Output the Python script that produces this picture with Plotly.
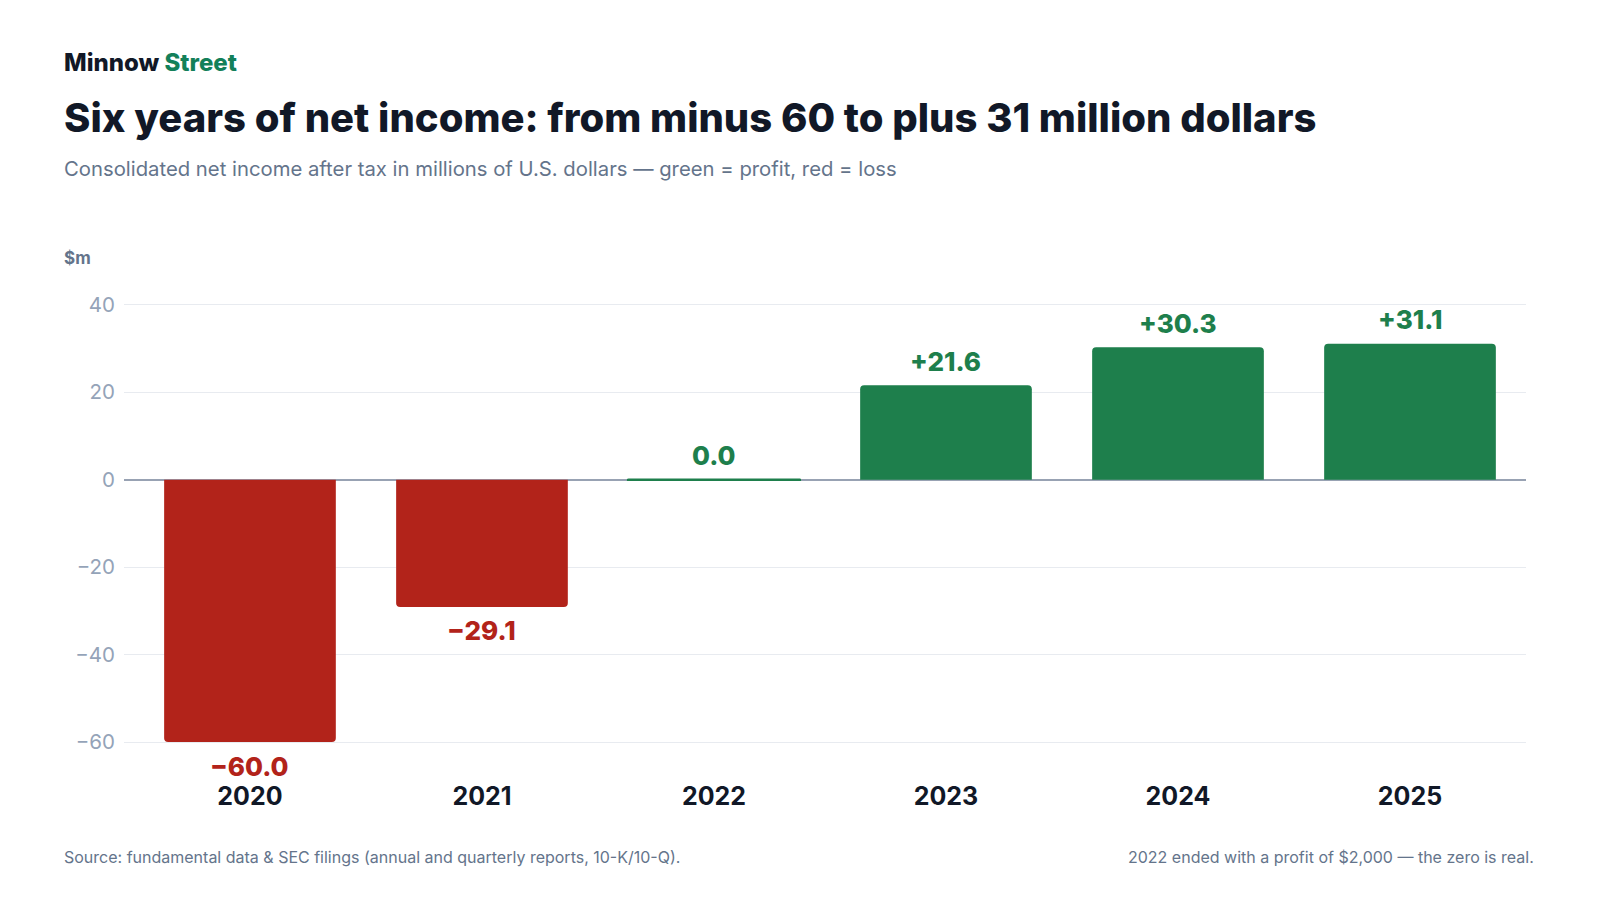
import plotly.graph_objects as go

# net income, $m
years = ["2020", "2021", "2022", "2023", "2024", "2025"]
net_income = [-60.0, -29.1, 0.002, 21.6, 30.3, 31.1]
y_ticks = [-60, -40, -20, 0, 20, 40]
y_tick_labels = ["\u221260", "\u221240", "\u221220", "0", "20", "40"]

RED = "#b2231a"
GREEN = "#1e7f4c"
DARK = "#111827"
GREY = "#64748b"
FONT = "Inter, Roboto, sans-serif"

W, H = 1600, 900
OFF = 8                               # page body margin
L, R, T, B = 124, 1526, 282, 777      # plot area in px (page coords)
TX = 62                               # left edge of header / footer text


def px_x(x):
    return (x - L) / (R - L)


def px_y(y):
    return (B - y) / (B - T)


def fmt(v):
    if round(v, 1) == 0:
        return "0.0"
    s = "%.1f" % abs(v)
    return ("+" if v > 0 else "\u2212") + s


colors = [RED if v < 0 else GREEN for v in net_income]
line_w = [2.5 if round(v, 1) == 0 else 0 for v in net_income]

fig = go.Figure()
fig.add_trace(go.Bar(
    x=years, y=net_income,
    marker=dict(color=colors, line=dict(color=colors, width=line_w), cornerradius=4),
    hoverinfo="skip",
))

annotations = []
for i, (v, c) in enumerate(zip(net_income, colors)):
    annotations.append(dict(
        x=i, y=v, xref="x", yref="y", text=fmt(v),
        showarrow=False, yshift=-24 if v < 0 else 24, yanchor="middle",
        font=dict(family=FONT, size=26, color=c, weight=800),
    ))

# header / footer
header = [
    dict(x=px_x(TX), y=px_y(62), text="Minnow <span style='color:#13805a'>Street</span>",
         font=dict(family=FONT, size=24, color=DARK, weight=800)),
    dict(x=px_x(TX), y=px_y(117), text="Six years of net income: from minus 60 to plus 31 million dollars",
         font=dict(family=FONT, size=40, color=DARK, weight=800)),
    dict(x=px_x(TX), y=px_y(168),
         text="Consolidated net income after tax in millions of U.S. dollars \u2014 green = profit, red = loss",
         font=dict(family=FONT, size=20.3, color=GREY)),
    dict(x=px_x(TX), y=px_y(258), text="$m", font=dict(family=FONT, size=17, color=GREY, weight=700)),
    dict(x=px_x(TX), y=px_y(857),
         text="Source: fundamental data &amp; SEC filings (annual and quarterly reports, 10-K/10-Q).",
         font=dict(family=FONT, size=16, color=GREY)),
]
for a in header:
    a.update(xref="paper", yref="paper", xanchor="left", yanchor="middle", showarrow=False)
annotations += header
annotations.append(dict(
    x=px_x(1536), y=px_y(857), xref="paper", yref="paper", xanchor="right", yanchor="middle",
    showarrow=False, text="2022 ended with a profit of $2,000 \u2014 the zero is real.",
    font=dict(family=FONT, size=16, color=GREY),
))

fig.update_layout(
    width=W, height=H,
    margin=dict(l=L - OFF, r=W - R + OFF, t=T - OFF, b=H - B + OFF, pad=0),
    paper_bgcolor="white", plot_bgcolor="white",
    showlegend=False,
    bargap=0.26,
    annotations=annotations,
    font=dict(family=FONT),
)
fig.update_xaxes(
    type="category", range=[-0.543, 5.5], showgrid=False, zeroline=False, showline=False, ticks="",
    ticklabelstandoff=2,
    tickfont=dict(family=FONT, size=25, color=DARK, weight=700),
)
fig.update_yaxes(
    range=[-68, 45.2], tickvals=y_ticks, ticktext=y_tick_labels,
    showgrid=True, gridcolor="#e8ebf0", gridwidth=1,
    zeroline=True, zerolinecolor="#98a2b3", zerolinewidth=2,
    showline=False, ticks="", ticklabelstandoff=8,
    tickfont=dict(family=FONT, size=20.5, color="#94a3b8"),
)

fig.write_html("out.html")
